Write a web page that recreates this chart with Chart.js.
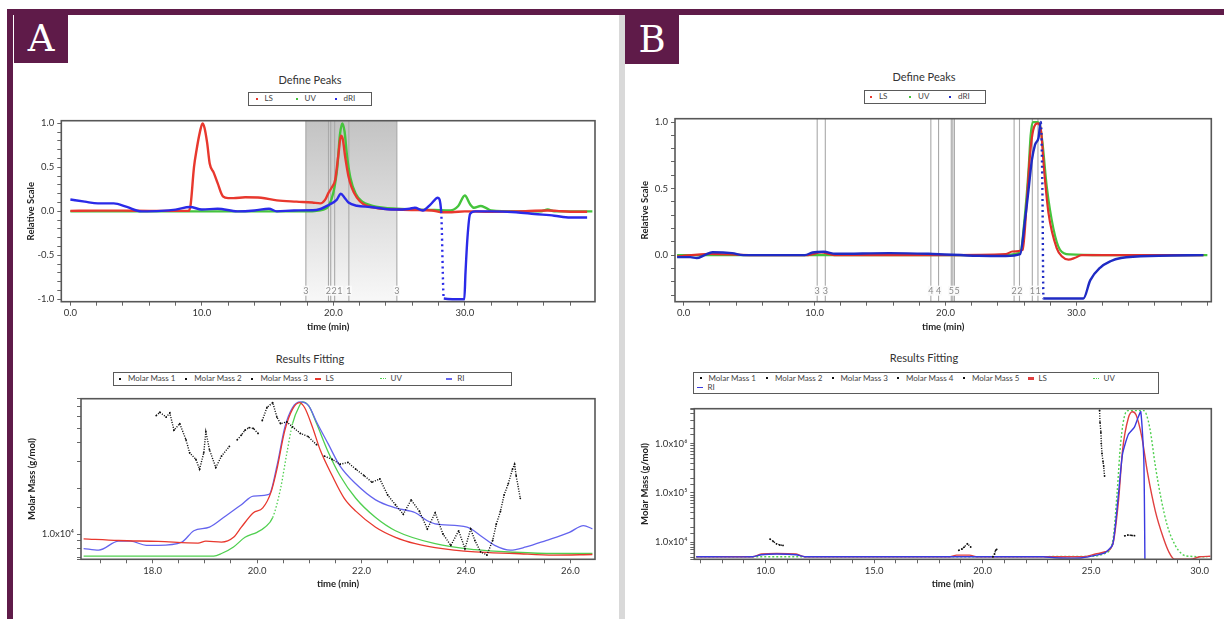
<!DOCTYPE html>
<html>
<head>
<meta charset="utf-8">
<script src="https://cdn.jsdelivr.net/npm/chart.js@4.4.1/dist/chart.umd.min.js"></script>
<style>
  body { margin: 0; width: 1224px; height: 619px; position: relative; overflow: hidden; background: #fff; font-family: Lato, 'Noto Sans', sans-serif; color: #333; }
  .abs { position: absolute; }
  .maroon { background: #5f1b49; }
  .tag { background: #5f1b49; color: #fff; font-family: 'DejaVu Serif', serif; font-size: 37px; line-height: 49px; text-align: center; }
  .title { font-size: 11px; color: #333; white-space: nowrap; transform: translate(-50%, -50%); }
  .legend { border: 1.5px solid #5a5a5a; box-sizing: border-box; background: #fff; }
  .item { position: absolute; font-size: 8px; line-height: 9px; white-space: nowrap; color: #444; }
  .item i { display: inline-block; vertical-align: middle; margin-right: 5px; }
  canvas { position: absolute; }
</style>
</head>
<body>
<div class="abs maroon" style="left:7px;top:9px;width:1217px;height:6px"></div>
<div class="abs maroon" style="left:7px;top:9px;width:5.5px;height:610px"></div>
<div class="abs" style="left:618.5px;top:15px;width:6.5px;height:604px;background:#d9d9d9"></div>
<div class="abs tag" style="left:14px;top:14px;width:54px;height:49px">A</div>
<div class="abs tag" style="left:625px;top:15px;width:54px;height:49px">B</div>

<div class="abs title" style="left:310px;top:79px">Define Peaks</div>
<div class="abs title" style="left:924px;top:76px">Define Peaks</div>
<div class="abs title" style="left:310px;top:358px">Results Fitting</div>
<div class="abs title" style="left:924px;top:357px">Results Fitting</div>

<canvas id="chartA1" width="586" height="223" style="left:14px;top:112px;width:586px;height:223px"></canvas>
<canvas id="chartA2" width="586" height="202" style="left:14px;top:390px;width:586px;height:202px"></canvas>
<canvas id="chartB1" width="590" height="225" style="left:628px;top:110px;width:590px;height:225px"></canvas>
<canvas id="chartB2" width="590" height="192" style="left:628px;top:400px;width:590px;height:192px"></canvas>

<script>
// ---- Panel A, Define Peaks (relative scale)
const tLS_A1 = [0, 2, 4, 6, 8, 9.0, 9.15, 9.4, 9.6, 9.85, 10.05, 10.2, 10.4, 10.6, 10.9, 11.2, 11.6, 12.0, 12.4, 13.3, 14.5, 15.7, 17.2, 18.4, 19.0, 19.37, 19.63, 19.88, 20.14, 20.39, 20.57, 20.72, 20.9, 21.15, 21.4, 21.79, 22.3, 23.3, 24.8, 26, 27.5, 28.3, 29, 30, 32, 34, 36.3, 37, 38, 39.3];
const vLS_A1 = [0.005, 0.008, 0.008, 0.005, 0.005, 0.005, 0.08, 0.5, 0.7, 0.9, 1.0, 0.95, 0.78, 0.54, 0.44, 0.32, 0.17, 0.15, 0.15, 0.16, 0.155, 0.125, 0.11, 0.1, 0.09, 0.13, 0.21, 0.27, 0.36, 0.65, 0.86, 0.82, 0.62, 0.4, 0.27, 0.155, 0.08, 0.037, 0.02, 0.015, 0.01, -0.01, -0.01, 0.0, -0.005, 0.0, 0.01, 0.005, -0.005, -0.005];
const tUV_A1 = [0, 5, 10, 15, 18, 19.25, 19.63, 20.0, 20.3, 20.5, 20.68, 20.85, 21.05, 21.3, 21.7, 22.2, 22.8, 23.8, 24.8, 26.2, 27.7, 28.9, 29.5, 30.0, 30.4, 30.7, 31.2, 31.6, 32, 34, 35.8, 36.3, 36.8, 39.7];
const vUV_A1 = [0, 0, 0, 0, 0, 0.02, 0.06, 0.21, 0.5, 0.87, 1.0, 0.91, 0.62, 0.38, 0.2, 0.11, 0.07, 0.04, 0.03, 0.02, 0.015, 0.01, 0.06, 0.18, 0.08, 0.04, 0.06, 0.04, 0.01, 0.0, 0.0, 0.02, 0.0, 0.0];
const tRI_A1 = [0, 1.1, 2.1, 3.3, 4.3, 5.4, 6.9, 8.0, 9.1, 10.0, 11.2, 12.7, 14, 15.1, 15.7, 17, 18.7, 19.75, 20.25, 20.57, 20.85, 21.15, 21.8, 22.8, 23.8, 24.8, 25.8, 26.2, 26.8, 27.4, 27.95, 28.2, 28.4, 29.96, 30.05, 30.2, 30.4, 30.78, 32, 33.9, 35.3, 36.8, 38, 39.3];
const vRI_A1 = [0.135, 0.11, 0.09, 0.09, 0.05, 0.0, 0.005, 0.02, 0.05, 0.02, 0.03, 0.0, 0.01, 0.03, 0.0, 0.01, 0.015, 0.08, 0.13, 0.2, 0.155, 0.1, 0.063, 0.05, 0.03, 0.02, 0.03, 0.04, 0.01, 0.08, 0.155, 0.0, -0.99, -1.0, -0.7, -0.3, -0.03, 0.0, 0.0, -0.01, -0.03, -0.05, -0.07, -0.07];
const peakLinesA = [17.91, 19.63, 19.8, 20.1, 21.18, 24.83];
const peakLabelsA = ['3', '2', '2', '1', '1', '3'];
const shadeA = [17.91, 24.83];

// ---- Panel A, Results Fitting (detector traces as fraction of plot height, molar mass in g/mol)
const tLS_A2 = [16.68, 17.35, 18.11, 18.87, 19.02, 19.32, 19.55, 19.7, 19.93, 20.11, 20.27, 20.38, 20.53, 20.68, 20.81, 20.91, 21.06, 21.21, 21.44, 21.67, 21.89, 22.27, 22.65, 23.03, 23.41, 24.17, 24.93, 25.68, 26.42];
const fLS_A2 = [0.127, 0.117, 0.111, 0.101, 0.113, 0.107, 0.137, 0.2, 0.29, 0.32, 0.42, 0.56, 0.8, 0.935, 0.976, 0.945, 0.824, 0.68, 0.52, 0.38, 0.30, 0.2, 0.137, 0.097, 0.073, 0.046, 0.036, 0.026, 0.03];
const tUV_A2 = [16.68, 18.0, 19.17, 19.32, 19.55, 19.77, 20.0, 20.15, 20.3, 20.45, 20.57, 20.68, 20.81, 20.87, 20.99, 21.14, 21.36, 21.59, 21.89, 22.27, 22.65, 23.41, 24.17, 24.93, 25.68, 26.42];
const fUV_A2 = [0.02, 0.02, 0.02, 0.036, 0.077, 0.137, 0.168, 0.2, 0.26, 0.44, 0.66, 0.845, 0.955, 0.98, 0.955, 0.845, 0.67, 0.52, 0.38, 0.26, 0.178, 0.097, 0.06, 0.044, 0.036, 0.036];
const tRI_A2 = [16.68, 16.97, 17.35, 17.58, 17.88, 18.11, 18.56, 18.79, 19.09, 19.4, 19.7, 19.93, 20.23, 20.38, 20.53, 20.68, 20.83, 20.99, 21.14, 21.36, 21.59, 21.89, 22.27, 22.65, 23.03, 23.26, 23.41, 24.02, 24.32, 24.55, 24.85, 25.15, 25.53, 25.98, 26.25, 26.42];
const fRI_A2 = [0.067, 0.057, 0.113, 0.113, 0.087, 0.087, 0.107, 0.178, 0.2, 0.27, 0.34, 0.394, 0.404, 0.58, 0.82, 0.945, 0.98, 0.955, 0.855, 0.72, 0.58, 0.47, 0.37, 0.32, 0.29, 0.24, 0.22, 0.2, 0.137, 0.087, 0.057, 0.077, 0.117, 0.168, 0.21, 0.19];
const tMM1_A = [20.1, 20.19, 20.3, 20.38, 20.45, 20.57, 20.68, 20.83, 20.98, 21.14];
const mMM1_A = [56200, 68500, 73800, 59200, 53600, 55000, 51000, 46200, 44000, 38900];
const tMM2_A = [19.62, 19.7, 19.77, 19.85, 19.93, 20.02];
const mMM2_A = [41900, 45000, 48500, 50500, 49800, 46200];
const tMM3a_A = [18.07, 18.14, 18.26, 18.33, 18.41, 18.52, 18.64, 18.71, 18.83, 18.9, 18.98, 19.02, 19.09, 19.21, 19.32, 19.47];
const mMM3a_A = [60600, 63700, 59200, 63000, 48500, 53600, 41900, 34400, 31100, 26800, 34400, 47300, 36000, 27500, 32700, 37900];
const tMM3b_A = [21.29, 21.44, 21.59, 21.74, 21.89, 22.05, 22.2, 22.35, 22.5, 22.65, 22.8, 22.95, 23.11, 23.26, 23.41, 23.56, 23.71, 23.86, 23.98, 24.09, 24.17, 24.28, 24.4, 24.51, 24.58, 24.66, 24.73, 24.81, 24.89, 24.93, 24.96, 25.04];
const mMM3b_A = [32700, 31100, 28900, 29700, 26800, 24300, 22000, 23100, 18100, 15600, 13500, 16800, 14100, 10800, 13800, 10000, 8400, 10500, 8000, 10800, 9060, 7630, 7260, 9060, 11600, 14100, 18100, 21500, 26800, 28900, 24300, 17200];
const massLabelsA = [4];

// ---- Panel B, Define Peaks
const tLS_B1 = [-0.5, 2, 5, 9.5, 10.5, 11.5, 15, 20, 24.6, 25.1, 25.9, 26.2, 26.46, 26.7, 27.05, 27.3, 27.53, 27.86, 28.5, 28.9, 29.39, 29.9, 30.4, 32, 36, 39.7];
const vLS_B1 = [-0.01, 0.01, 0.0, 0.0, 0.02, 0.0, 0.0, 0.0, 0.007, 0.027, 0.04, 0.39, 0.76, 0.94, 0.99, 0.93, 0.64, 0.32, 0.05, -0.01, -0.034, -0.02, 0.0, 0.0, 0.0, 0.0];
const tUV_B1 = [-0.5, 5, 10, 20, 24, 25.7, 26.08, 26.34, 26.5, 26.67, 27.0, 27.2, 27.4, 27.74, 28.24, 28.75, 29.5, 32, 36, 40.0];
const vUV_B1 = [0, 0, 0, 0, 0, 0.02, 0.32, 0.64, 0.9, 1.0, 1.0, 0.98, 0.85, 0.51, 0.2, 0.04, 0.005, 0, 0, 0];
const tRI_B1 = [-0.5, 0.5, 1.0, 1.6, 2.2, 3.7, 4.56, 9.26, 9.85, 10.7, 11.6, 15.7, 18.7, 22.5, 24.6, 25.7, 26.08, 26.34, 26.59, 26.84, 27.1, 27.28, 27.4, 27.48, 30.53, 31.05, 31.8, 32.6, 33.4, 36.3, 39.7];
const vRI_B1 = [-0.015, -0.015, -0.022, 0, 0.022, 0.015, 0, 0, 0.02, 0.025, 0.01, 0.015, 0.01, -0.005, -0.007, 0.007, 0.27, 0.49, 0.71, 0.83, 0.88, 1.0, 0.5, -0.326, -0.326, -0.19, -0.095, -0.046, -0.022, -0.005, 0];
const peakLinesB = [10.2, 10.82, 18.88, 19.47, 20.44, 20.56, 20.68, 25.24, 25.65, 26.63, 27.06];
const peakLabelsB = ['3', '3', '4', '4', '5', '', '5', '2', '2', '1', '1'];

// ---- Panel B, Results Fitting
const tLS_B2 = [6.8, 9.4, 9.8, 10.5, 11.4, 11.8, 18.5, 18.8, 19.4, 19.7, 24.6, 25.2, 25.65, 26.0, 26.27, 26.45, 26.72, 26.9, 27.07, 27.34, 27.6, 27.96, 28.32, 28.58, 28.85, 29.6, 30.0, 30.5];
const fLS_B2 = [0.017, 0.017, 0.035, 0.039, 0.035, 0.017, 0.017, 0.028, 0.028, 0.017, 0.017, 0.035, 0.05, 0.1, 0.4, 0.725, 0.94, 0.98, 0.96, 0.81, 0.575, 0.32, 0.146, 0.05, 0.0, 0.0, 0.017, 0.02];
const tUV_B2 = [6.8, 12, 20, 25.0, 25.65, 26.0, 26.2, 26.36, 26.58, 26.72, 27.43, 27.7, 27.96, 28.23, 28.5, 28.85, 29.2, 29.56, 30.36];
const fUV_B2 = [0.017, 0.017, 0.017, 0.02, 0.04, 0.124, 0.446, 0.77, 0.97, 0.987, 0.987, 0.876, 0.62, 0.40, 0.23, 0.10, 0.034, 0.02, 0.017];
const tRI_B2 = [6.8, 9.4, 9.8, 10.5, 11.4, 11.8, 22.8, 23.3, 24.6, 25.65, 26.0, 26.27, 26.45, 26.72, 26.99, 27.16, 27.29, 27.43, 27.48];
const fRI_B2 = [0.017, 0.017, 0.03, 0.035, 0.03, 0.017, 0.017, 0.01, 0.01, 0.045, 0.1, 0.446, 0.70, 0.83, 0.876, 0.94, 0.98, 0.66, 0.0];
const tMM1_B = [26.55, 26.7, 26.85, 27.0];
const mMM1_B = [13500, 14000, 13800, 13600];
const tMM2_B = [25.39, 25.41, 25.45, 25.47, 25.5, 25.55, 25.58, 25.62];
const mMM2_B = [4.7e6, 2.7e6, 1.7e6, 1.0e6, 6.3e5, 4.3e5, 3.5e5, 2.2e5];
const tMM3_B = [10.2, 10.35, 10.5, 10.65, 10.8];
const mMM3_B = [11600, 10400, 9300, 8800, 8600];
const tMM4_B = [18.9, 19.05, 19.15, 19.3, 19.45];
const mMM4_B = [6850, 7300, 7970, 9300, 8000];
const tMM5_B = [20.47, 20.55, 20.6, 20.65];
const mMM5_B = [5060, 5800, 6850, 7200];
const massLabelsB = [4, 5, 6];

const RED = '#e8382e', GREEN = '#45c43c', BLUE = '#2a2ae8', NAVY = '#1f2bc4', INK = '#111';
const SUP = { 4: '⁴', 5: '⁵', 6: '⁶' };
const xy = (ts, vs) => ts.map((t, i) => ({ x: t, y: vs[i] }));

// dotted where a trace falls / rises very steeply (the detector samples get sparse there)
const steepDown = ctx => (ctx.p1.parsed.y - ctx.p0.parsed.y) / (ctx.p1.parsed.x - ctx.p0.parsed.x) < -2 ? [2, 3.5] : undefined;
const steepUp = ctx => (ctx.p1.parsed.y - ctx.p0.parsed.y) / (ctx.p1.parsed.x - ctx.p0.parsed.x) > 1 ? [1.5, 2] : undefined;

const framePlugin = {
    id: 'frame',
    afterDraw(chart) {
        const { ctx, chartArea: ca } = chart;
        ctx.save();
        ctx.strokeStyle = '#575757'; ctx.lineWidth = 1.6;
        ctx.strokeRect(ca.left, ca.top, ca.right - ca.left, ca.bottom - ca.top);
        ctx.restore();
    }
};

const peakPlugin = {
    id: 'peakMarks',
    beforeDatasetsDraw(chart, args, opts) {
        const { ctx, chartArea: ca, scales: { x } } = chart;
        ctx.save();
        if (opts.shade) {
            const x0 = x.getPixelForValue(opts.shade[0]), x1 = x.getPixelForValue(opts.shade[1]);
            const g = ctx.createLinearGradient(0, ca.top, 0, ca.bottom);
            g.addColorStop(0, '#c3c3c3'); g.addColorStop(1, '#f8f8f8');
            ctx.fillStyle = g;
            ctx.fillRect(x0, ca.top, x1 - x0, ca.bottom - ca.top);
        }
        ctx.strokeStyle = '#a9a9a9'; ctx.lineWidth = 1.1;
        opts.lines.forEach(v => {
            const px = x.getPixelForValue(v);
            ctx.beginPath(); ctx.moveTo(px, ca.top); ctx.lineTo(px, ca.bottom); ctx.stroke();
        });
        ctx.font = '9px Lato'; ctx.textAlign = 'left'; ctx.textBaseline = 'middle';
        let lastRight = -1e9;
        opts.lines.forEach((v, i) => {
            const lab = opts.labels[i];
            if (!lab) return;
            const w = ctx.measureText(lab).width;
            let left = Math.max(x.getPixelForValue(v) - w / 2, lastRight + 0.5);
            const py = ca.bottom - 11;
            ctx.fillStyle = '#fafafa';
            ctx.fillRect(left - 0.5, py - 5, w + 1, 10);
            ctx.fillStyle = '#8a8a8a';
            ctx.fillText(lab, left, py);
            lastRight = left + w;
        });
        ctx.restore();
    }
};

function timeAxis(min, max, step, every, lastLabel, height, titlePad) {
    return {
        type: 'linear', min, max, position: 'bottom',
        afterFit: s => { s.height = height; },
        border: { display: false },
        grid: { drawOnChartArea: false, drawTicks: true, tickLength: 4, tickColor: '#666' },
        ticks: {
            stepSize: step, includeBounds: false, autoSkip: false, maxRotation: 0, padding: 2,
            color: '#333', font: { family: 'Lato', size: 9.5 },
            callback: v => v <= lastLabel + 1e-6 && Math.abs(v / every - Math.round(v / every)) < 1e-6 ? v.toFixed(1) : ''
        },
        title: { display: true, text: 'time (min)', color: '#222', font: { family: 'Lato', size: 9.5, weight: 'bold' }, padding: { top: 0, bottom: titlePad } }
    };
}

function relAxis(min, max, width) {
    return {
        type: 'linear', min, max, position: 'left',
        afterFit: s => { s.width = width; },
        border: { display: false },
        grid: { drawOnChartArea: false, tickLength: 4, tickColor: '#666' },
        ticks: {
            stepSize: 0.1, includeBounds: false, autoSkip: false, padding: 3,
            color: '#333', font: { family: 'Lato', size: 9.5 },
            callback: v => Math.abs(v * 2 - Math.round(v * 2)) < 1e-6 ? v.toFixed(1) : ''
        },
        title: { display: true, text: 'Relative Scale', color: '#222', font: { family: 'Lato', size: 9.5, weight: 'bold' }, padding: { top: 11.3, bottom: 0 } }
    };
}

function massAxis(min, max, width, shown, titlePad) {
    return {
        type: 'logarithmic', min, max, position: 'left',
        afterFit: s => { s.width = width; },
        border: { display: false },
        grid: { drawOnChartArea: false, tickLength: 4, tickColor: '#666' },
        ticks: {
            autoSkip: false, padding: 3, color: '#333', font: { family: 'Lato', size: 9.5 },
            callback: v => {
                const e = Math.round(Math.log10(v));
                return Math.abs(v - Math.pow(10, e)) < 1e-6 * v && shown.includes(e) ? '1.0x10' + SUP[e] : '';
            }
        },
        title: { display: true, text: 'Molar Mass (g/mol)', color: '#222', font: { family: 'Lato', size: 9.5, weight: 'bold' }, padding: { top: titlePad, bottom: 0 } }
    };
}

const hiddenRel = { type: 'linear', display: false, min: 0, max: 1 };

function trace(label, data, color, width, extra) {
    return Object.assign({ label, data, borderColor: color, backgroundColor: color, borderWidth: width, pointRadius: 0, fill: false, cubicInterpolationMode: 'monotone' }, extra || {});
}
function massSeries(label, data) {
    return { label, data, yAxisID: 'y', borderColor: INK, backgroundColor: INK, borderWidth: 1.4, borderDash: [1.1, 1.4], pointRadius: 0.9, pointBorderWidth: 0, fill: false };
}

const baseOptions = (padTop, padRight) => ({
    responsive: false, animation: false, events: [],
    layout: { padding: { left: 0, top: padTop, right: padRight, bottom: 0 } },
    plugins: { legend: { display: false }, tooltip: { enabled: false } }
});

// Panel A top
const optA1 = baseOptions(3.7, 5);
optA1.plugins.peakMarks = { lines: peakLinesA, labels: peakLabelsA, shade: shadeA };
optA1.scales = { x: timeAxis(-0.69, 39.9, 2, 10, 30, 33.3, 2.3), y: relAxis(-1.027, 1.03, 47.3) };
new Chart(document.getElementById('chartA1'), {
    type: 'line',
    data: { datasets: [
        trace('dRI', xy(tRI_A1, vRI_A1), BLUE, 2.4, { segment: { borderDash: steepDown } }),
        trace('LS', xy(tLS_A1, vLS_A1), RED, 2.4),
        trace('UV', xy(tUV_A1, vUV_A1), GREEN, 2.4)
    ] },
    options: optA1,
    plugins: [peakPlugin, framePlugin]
});

// Panel A bottom
const optA2 = baseOptions(4.3, 5);
optA2.scales = { x: timeAxis(16.63, 26.47, 0.5, 2, 26, 32.7, 2), y: massAxis(6806, 78300, 67, massLabelsA, 11.9), yRel: hiddenRel };
new Chart(document.getElementById('chartA2'), {
    type: 'line',
    data: { datasets: [
        massSeries('Molar Mass 1', xy(tMM1_A, mMM1_A)),
        massSeries('Molar Mass 2', xy(tMM2_A, mMM2_A)),
        massSeries('Molar Mass 3', xy(tMM3a_A, mMM3a_A)),
        massSeries('Molar Mass 3', xy(tMM3b_A, mMM3b_A)),
        trace('LS', xy(tLS_A2, fLS_A2), RED, 1.3, { yAxisID: 'yRel' }),
        trace('RI', xy(tRI_A2, fRI_A2), '#6464ee', 1.3, { yAxisID: 'yRel' }),
        trace('UV', xy(tUV_A2, fUV_A2), '#4fcf4f', 1.3, { yAxisID: 'yRel', segment: { borderDash: steepUp } })
    ] },
    options: optA2,
    plugins: [framePlugin]
});

// Panel B top
const optB1 = baseOptions(3.3, 6.7);
optB1.plugins.peakMarks = { lines: peakLinesB, labels: peakLabelsB };
optB1.scales = { x: timeAxis(-0.66, 40.3, 2, 10, 30, 33.3, 2.3), y: relAxis(-0.35, 1.025, 47) };
new Chart(document.getElementById('chartB1'), {
    type: 'line',
    data: { datasets: [
        trace('dRI', xy(tRI_B1, vRI_B1), NAVY, 2.4, { segment: { borderDash: steepDown } }),
        trace('LS', xy(tLS_B1, vLS_B1), '#e0302a', 2.2),
        trace('UV', xy(tUV_B1, vUV_B1), GREEN, 2.2)
    ] },
    options: optB1,
    plugins: [peakPlugin, framePlugin]
});

// Panel B bottom
const optB2 = baseOptions(4, 6.7);
optB2.scales = { x: timeAxis(6.71, 30.54, 1, 5, 30, 32.7, 2), y: massAxis(4510, 5.1e6, 66.3, massLabelsB, 11.3), yRel: hiddenRel };
new Chart(document.getElementById('chartB2'), {
    type: 'line',
    data: { datasets: [
        massSeries('Molar Mass 1', xy(tMM1_B, mMM1_B)),
        massSeries('Molar Mass 2', xy(tMM2_B, mMM2_B)),
        massSeries('Molar Mass 3', xy(tMM3_B, mMM3_B)),
        massSeries('Molar Mass 4', xy(tMM4_B, mMM4_B)),
        massSeries('Molar Mass 5', xy(tMM5_B, mMM5_B)),
        trace('RI', xy(tRI_B2, fRI_B2), '#3a3ae0', 1.4, { yAxisID: 'yRel', cubicInterpolationMode: 'default', tension: 0.2 }),
        trace('LS', xy(tLS_B2, fLS_B2), '#e04040', 1.4, { yAxisID: 'yRel' }),
        trace('UV', xy(tUV_B2, fUV_B2), '#50d050', 1.4, { yAxisID: 'yRel', borderDash: [2, 2] })
    ] },
    options: optB2,
    plugins: [framePlugin]
});

// Legends (boxed, as in the instrument software)
function buildLegend(box, items) {
    const el = document.createElement('div');
    el.className = 'abs legend';
    Object.assign(el.style, { left: box[0] + 'px', top: box[1] + 'px', width: box[2] + 'px', height: box[3] + 'px' });
    items.forEach(it => {
        const d = document.createElement('div');
        d.className = 'item';
        d.style.left = it.x + 'px'; d.style.top = it.y + 'px';
        const m = document.createElement('i');
        if (it.mark === 'dot') Object.assign(m.style, { width: '2px', height: '2px', background: it.color, marginRight: '7px' });
        else if (it.mark === 'line') Object.assign(m.style, { width: '6px', height: it.thick ? '2.5px' : '1.5px', background: it.color });
        else Object.assign(m.style, { width: '6px', height: '0px', borderTop: '1.5px dotted ' + it.color });
        d.appendChild(m);
        d.appendChild(document.createTextNode(it.label));
        el.appendChild(d);
    });
    document.body.appendChild(el);
}

buildLegend([248, 92, 124, 14], [
    { label: 'LS', color: RED, mark: 'dot', x: 6.5, y: 1 },
    { label: 'UV', color: GREEN, mark: 'dot', x: 46.5, y: 1 },
    { label: 'dRI', color: BLUE, mark: 'dot', x: 85.5, y: 1 }
]);
buildLegend([864, 90, 122, 14], [
    { label: 'LS', color: RED, mark: 'dot', x: 5, y: 1 },
    { label: 'UV', color: GREEN, mark: 'dot', x: 44, y: 1 },
    { label: 'dRI', color: NAVY, mark: 'dot', x: 84, y: 1 }
]);
buildLegend([113, 372, 399, 13.5], [
    { label: 'Molar Mass 1', color: INK, mark: 'dot', x: 5, y: 1 },
    { label: 'Molar Mass 2', color: INK, mark: 'dot', x: 71.3, y: 1 },
    { label: 'Molar Mass 3', color: INK, mark: 'dot', x: 137.4, y: 1 },
    { label: 'LS', color: RED, mark: 'line', x: 200.5, y: 1 },
    { label: 'UV', color: '#4fcf4f', mark: 'dots', x: 265.5, y: 1 },
    { label: 'RI', color: '#6464ee', mark: 'line', x: 332.3, y: 1 }
]);
buildLegend([693, 372, 466, 21.5], [
    { label: 'Molar Mass 1', color: INK, mark: 'dot', x: 5.5, y: 0.5 },
    { label: 'Molar Mass 2', color: INK, mark: 'dot', x: 72, y: 0.5 },
    { label: 'Molar Mass 3', color: INK, mark: 'dot', x: 137.5, y: 0.5 },
    { label: 'Molar Mass 4', color: INK, mark: 'dot', x: 203, y: 0.5 },
    { label: 'Molar Mass 5', color: INK, mark: 'dot', x: 269, y: 0.5 },
    { label: 'LS', color: '#e04040', mark: 'line', thick: true, x: 333.5, y: 0.5 },
    { label: 'UV', color: '#50d050', mark: 'dots', x: 398.5, y: 0.5 },
    { label: 'RI', color: '#3a3ae0', mark: 'line', x: 2.5, y: 9.5 }
]);
</script>
</body>
</html>
